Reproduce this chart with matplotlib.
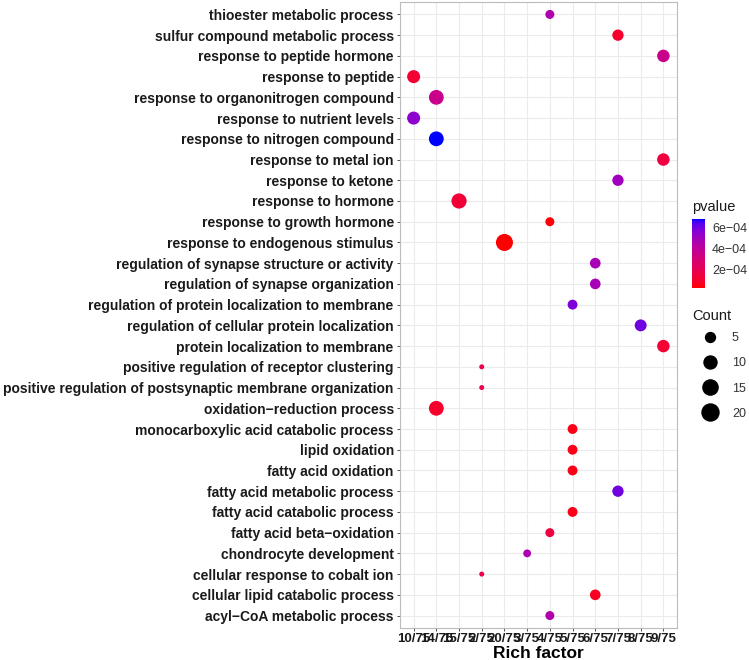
"""GO enrichment dot plot: rich factor vs. term, coloured by p-value, sized by count."""

import matplotlib
matplotlib.use("Agg")
import matplotlib.pyplot as plt
from matplotlib.colors import LinearSegmentedColormap, Normalize
from matplotlib.lines import Line2D
import numpy as np

plt.rcParams["font.family"] = ["Liberation Sans", "DejaVu Sans"]

# Terms from bottom to top (as on the y axis)
terms = [
    "acyl\u2212CoA metabolic process",
    "cellular lipid catabolic process",
    "cellular response to cobalt ion",
    "chondrocyte development",
    "fatty acid beta\u2212oxidation",
    "fatty acid catabolic process",
    "fatty acid metabolic process",
    "fatty acid oxidation",
    "lipid oxidation",
    "monocarboxylic acid catabolic process",
    "oxidation\u2212reduction process",
    "positive regulation of postsynaptic membrane organization",
    "positive regulation of receptor clustering",
    "protein localization to membrane",
    "regulation of cellular protein localization",
    "regulation of protein localization to membrane",
    "regulation of synapse organization",
    "regulation of synapse structure or activity",
    "response to endogenous stimulus",
    "response to growth hormone",
    "response to hormone",
    "response to ketone",
    "response to metal ion",
    "response to nitrogen compound",
    "response to nutrient levels",
    "response to organonitrogen compound",
    "response to peptide",
    "response to peptide hormone",
    "sulfur compound metabolic process",
    "thioester metabolic process",
]
counts = [4, 6, 2, 3, 4, 5, 7, 5, 5, 5, 14, 2, 2, 9, 8, 5, 6, 6,
          20, 4, 15, 7, 9, 14, 10, 14, 10, 9, 7, 4]
pvalues = [4.5e-4, 0.8e-4, 1.8e-4, 4.6e-4, 1.5e-4, 0.6e-4, 6.0e-4, 0.6e-4,
           0.6e-4, 0.6e-4, 1.0e-4, 1.8e-4, 1.8e-4, 1.2e-4, 6.0e-4, 5.8e-4,
           4.8e-4, 4.8e-4, 0.3e-4, 0.4e-4, 1.3e-4, 5.0e-4, 1.5e-4, 6.8e-4,
           5.5e-4, 3.6e-4, 1.2e-4, 3.6e-4, 1.0e-4, 4.6e-4]
total = 75
# x axis is discrete, sorted as strings (as ggplot does)
rich_levels = ["10/75", "14/75", "15/75", "2/75", "20/75", "3/75",
               "4/75", "5/75", "6/75", "7/75", "8/75", "9/75"]

P_MIN, P_MAX = 0.3e-4, 6.8e-4


# ---- red -> blue gradient interpolated in CIE Lab (like scale_colour_gradient)
def _srgb_to_lab(rgb):
    rgb = np.asarray(rgb, float)
    lin = np.where(rgb <= 0.04045, rgb / 12.92, ((rgb + 0.055) / 1.055) ** 2.4)
    m = np.array([[0.4124, 0.3576, 0.1805],
                  [0.2126, 0.7152, 0.0722],
                  [0.0193, 0.1192, 0.9505]])
    xyz = m @ lin / np.array([0.95047, 1.0, 1.08883])
    f = np.where(xyz > 0.008856, np.cbrt(xyz), 7.787 * xyz + 16 / 116)
    return np.array([116 * f[1] - 16, 500 * (f[0] - f[1]), 200 * (f[1] - f[2])])


def _lab_to_srgb(lab):
    L, a, b = lab
    fy = (L + 16) / 116
    f = np.array([fy + a / 500, fy, fy - b / 200])
    xyz = np.where(f ** 3 > 0.008856, f ** 3, (f - 16 / 116) / 7.787)
    xyz = xyz * np.array([0.95047, 1.0, 1.08883])
    m = np.array([[3.2406, -1.5372, -0.4986],
                  [-0.9689, 1.8758, 0.0415],
                  [0.0557, -0.2040, 1.0570]])
    lin = m @ xyz
    rgb = np.where(lin <= 0.0031308, 12.92 * lin, 1.055 * np.clip(lin, 0, None) ** (1 / 2.4) - 0.055)
    return np.clip(rgb, 0, 1)


lab_lo, lab_hi = _srgb_to_lab([1, 0, 0]), _srgb_to_lab([0, 0, 1])
stops = [_lab_to_srgb(lab_lo + t * (lab_hi - lab_lo)) for t in np.linspace(0, 1, 32)]
cmap = LinearSegmentedColormap.from_list("red_blue_lab", stops)
norm = Normalize(P_MIN, P_MAX)


def dot_size(c, cmin=2, cmax=20, dmin=5.0, dmax=17.0):
    """ggplot-style area scaling -> matplotlib marker area (pt^2)."""
    d_px = dmin + (dmax - dmin) * np.sqrt((np.asarray(c, float) - cmin) / (cmax - cmin))
    return (d_px * 0.72) ** 2


x_pos = [rich_levels.index(f"{c}/{total}") for c in counts]
y_pos = np.arange(len(terms))

fig = plt.figure(figsize=(7.49, 6.60), dpi=100)
ax = fig.add_axes([400 / 749, 1 - 628 / 660, 277 / 749, 626 / 660])

ax.scatter(x_pos, y_pos, s=dot_size(counts), c=pvalues, cmap=cmap, norm=norm,
           edgecolors="none", zorder=3)

ax.set_xticks(range(len(rich_levels)))
ax.set_xticklabels(rich_levels, fontsize=9.5, fontweight="bold", color="#1a1a1a")
ax.set_yticks(y_pos)
ax.set_yticklabels(terms, fontsize=10, fontweight="bold", color="#1a1a1a")
ax.set_xlim(-0.6, len(rich_levels) - 1 + 0.6)
ax.set_ylim(-0.6, len(terms) - 1 + 0.6)
ax.tick_params(length=2.5, width=0.6, color="#333333", pad=2)
ax.tick_params(axis="x", pad=1)
ax.grid(True, color="#ebebeb", linewidth=0.8, zorder=0)
ax.set_axisbelow(True)
for sp in ax.spines.values():
    sp.set_color("#bbbbbb")
    sp.set_linewidth(0.8)
ax.set_xlabel("Rich factor", fontsize=12.5, fontweight="bold", va="center")
ax.xaxis.set_label_coords(0.5, -(653 - 628) / 626)

# colour bar legend
cax = fig.add_axes([692 / 749, 1 - 288 / 660, 13 / 749, 69 / 660])
cb = fig.colorbar(plt.cm.ScalarMappable(norm=norm, cmap=cmap), cax=cax)
cb.set_ticks([2e-4, 4e-4, 6e-4])
cb.set_ticklabels(["2e\u221204", "4e\u221204", "6e\u221204"])
cb.ax.tick_params(labelsize=9, length=2, color="white", pad=3, labelcolor="#333333")
cb.outline.set_visible(False)
fig.text(692 / 749, 1 - 207 / 660, "pvalue", fontsize=10.5, va="center", color="#1a1a1a")

# size legend
fig.text(692 / 749, 1 - 316 / 660, "Count", fontsize=10.5, va="center", color="#1a1a1a")
size_levels = [5, 10, 15, 20]
handles = [Line2D([], [], ls="none", marker="o", color="black",
                  markersize=np.sqrt(dot_size(v))) for v in size_levels]
fig.legend(handles, [str(v) for v in size_levels], loc="upper left",
           bbox_to_anchor=(697 / 749, 1 - 326 / 660), frameon=False, fontsize=9,
           labelspacing=1.05, handletextpad=1.3, borderpad=0, handlelength=1.0,
           labelcolor="#333333")

fig.savefig("out.png", dpi=100)
